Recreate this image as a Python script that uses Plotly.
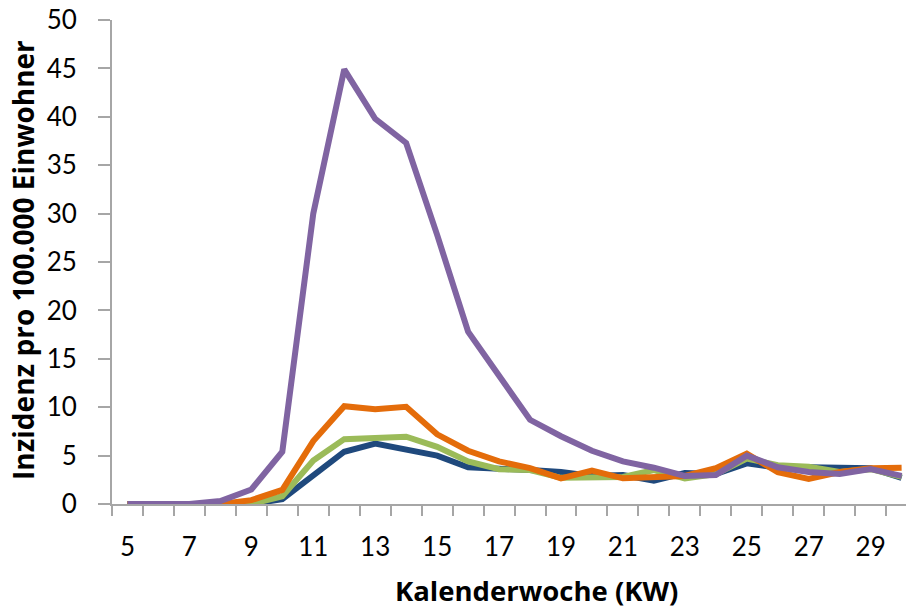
import plotly.graph_objects as go

weeks = list(range(5, 31))
blue   = [0, 0, 0, 0, 0, 0.5, 2.9, 5.4, 6.25, 5.6, 5.0, 3.8, 3.7, 3.5, 3.3, 2.9, 3.0, 2.4, 3.2, 3.1, 4.2, 3.75, 3.8, 3.75, 3.7, 2.7]
green  = [0, 0, 0, 0, 0, 0.8, 4.5, 6.7, 6.85, 6.95, 5.9, 4.4, 3.6, 3.5, 2.7, 2.7, 2.8, 3.5, 2.65, 3.1, 4.7, 4.0, 3.85, 3.3, 3.6, 2.8]
orange = [0, 0, 0, 0, 0.4, 1.45, 6.5, 10.1, 9.8, 10.05, 7.2, 5.5, 4.4, 3.7, 2.65, 3.45, 2.65, 2.8, 2.9, 3.7, 5.2, 3.3, 2.6, 3.3, 3.7, 3.75]
purple = [0, 0, 0, 0.3, 1.5, 5.4, 30.0, 44.9, 39.8, 37.3, 27.8, 17.8, 13.2, 8.7, 7.0, 5.5, 4.4, 3.75, 2.9, 3.0, 5.0, 3.8, 3.3, 3.1, 3.6, 2.9]

x_tick_labels = list(range(5, 30, 2))
y_ticks = list(range(0, 51, 5))

series = [
    ("blue", blue, "#1F497D"),
    ("green", green, "#9BBB59"),
    ("orange", orange, "#E46C0A"),
    ("purple", purple, "#8064A2"),
]

# page has an 8px body margin; plot area target: x 112..914, y 20..504 (window px)
OFF = 8
L, T, R_EDGE, B_AX = 112 - OFF, 20 - OFF, 914 - OFF, 504 - OFF
W, H = 906, 599
PW, PH = R_EDGE - L, B_AX - T

def px(xw):
    return (xw - OFF - L) / PW

def py(yw):
    return (B_AX - (yw - OFF)) / PH

fig = go.Figure()
for name, vals, col in series:
    fig.add_trace(go.Scatter(x=weeks, y=vals, mode="lines", name=name,
                             line=dict(color=col, width=6), showlegend=False))

fig.update_layout(
    width=W, height=H,
    margin=dict(l=L, r=W - R_EDGE, t=T, b=H - B_AX, autoexpand=False),
    paper_bgcolor="white", plot_bgcolor="white",
    font=dict(family="Lato", size=26, color="#000000"),
)
fig.update_xaxes(
    range=[4.5, 30.4],
    tickmode="array", tickvals=x_tick_labels, ticktext=[str(v) for v in x_tick_labels],
    ticks="", ticklabelstandoff=19, ticklabeloverflow="allow",
    showline=True, linecolor="#A6A6A6", linewidth=2,
    showgrid=False, zeroline=False,
    minor=dict(tick0=4.5, dtick=1, ticks="outside", ticklen=10, tickcolor="#A6A6A6", tickwidth=2, showgrid=False),
)
fig.update_yaxes(
    range=[0, 50],
    tickmode="array", tickvals=y_ticks,
    ticks="outside", ticklen=12, tickcolor="#A6A6A6", tickwidth=2,
    ticklabelstandoff=16, ticklabeloverflow="allow",
    showline=True, linecolor="#A6A6A6", linewidth=2,
    showgrid=False, zeroline=False,
)
fig.add_annotation(text="<b>Kalenderwoche (KW)</b>", xref="paper", yref="paper",
                   x=px(536), y=py(590), xanchor="center", yanchor="middle",
                   showarrow=False, font=dict(family="Open Sans", size=27.5, color="#000000"))
fig.add_annotation(text="<b>Inzidenz pro 100.000 Einwohner</b>", textangle=-90,
                   xref="paper", yref="paper", x=px(23), y=py(260),
                   xanchor="center", yanchor="middle",
                   showarrow=False, font=dict(family="Open Sans", size=28, color="#000000"))

fig.write_html("out.html")
